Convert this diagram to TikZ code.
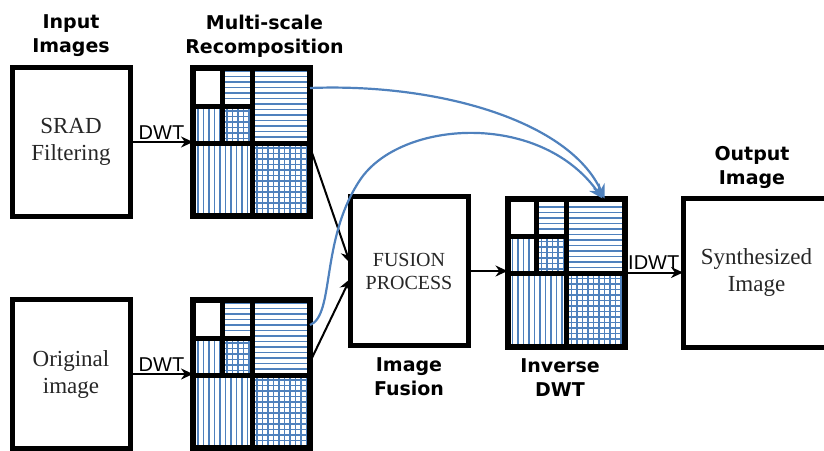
\documentclass[tikz,border=0pt]{standalone}
\usepackage{fontspec}
\setmainfont{Liberation Serif}
\setsansfont{Liberation Sans}
\newfontfamily\headfont{DejaVu Sans}
\usepackage{tikz}
\usetikzlibrary{arrows.meta, positioning, calc}

\definecolor{bandblue}{RGB}{79,129,189}

% hatched subbands of a two level decomposition, inside node #1
\newcommand{\subbands}[1]{%
  \begin{scope}[shift={(#1.north west)}, bandblue, line width=1.3pt]
    % horizontal detail
    \foreach \y in {3,8.5,...,35} \draw (29,\y) -- (59,\y);
    \foreach \y in {3,8.5,...,73} \draw (59,\y) -- (117,\y);
    % vertical detail
    \foreach \x in {5,10.5,...,27} \draw (\x,38) -- (\x,75);
    \foreach \x in {5,10.5,...,57} \draw (\x,75) -- (\x,148);
    % diagonal detail
    \foreach \x in {34,39.5,...,57} \draw (\x,38) -- (\x,75);
    \foreach \y in {43,48.5,...,72} \draw (29,\y) -- (59,\y);
    \foreach \x in {64,69.5,...,115} \draw (\x,75) -- (\x,148);
    \foreach \y in {80,85.5,...,146} \draw (59,\y) -- (117,\y);
    % band borders
    \draw[black, line width=5pt] (59,0) -- (59,148) (0,75) -- (117,75)
      (29,0) -- (29,75) (0,38) -- (59,38);
    \draw[black, line width=6pt] (0,0) rectangle (117,148);
  \end{scope}}

\begin{document}
\begin{tikzpicture}[x=1pt, y=-1pt, >={Stealth[length=12pt,width=11pt]},
    box/.style={draw, line width=5pt, outer sep=0pt, minimum width=118pt,
      minimum height=149pt, align=center, text=black!85,
      font=\fontsize{23}{27}\selectfont},
    band/.style={outer sep=0pt, minimum width=117pt, minimum height=148pt},
    heading/.style={align=center, font=\headfont\bfseries\fontsize{19}{24}\selectfont},
    flow/.style={->, line width=2pt},
    bypass/.style={-{Stealth[length=14pt,width=13pt]}, bandblue, line width=2.2pt},
    arrowtag/.style={font=\sffamily\fontsize{20}{22}\selectfont, inner sep=2pt}]
    \path[use as bounding box, clip] (0,0) rectangle (824,450);

    % input images
    \node[box] (srad) at (71,142) {SRAD\\Filtering};
    \node[box] (orig) at (71,374) {Original\\image};
    \node[heading, above=7pt of srad] (inlbl) {Input\\Images};

    % decompositions
    \node[band] (top) at (251.5,142) {};
    \node[band] (bot) at (251.5,374) {};
    \node[band] (inv) at (566,272.5) {};
    \subbands{top}
    \subbands{bot}
    \subbands{inv}
    \node[heading, above=7pt of top, xshift=13pt] (mslbl) {Multi-scale\\Recomposition};
    \node[heading, below=9pt of inv, xshift=-6pt] (invlbl) {Inverse\\DWT};

    % fusion and output
    \node[box, font=\fontsize{20}{23}\selectfont] (fusion) at (409,271) {FUSION\\PROCESS};
    \node[heading, below=9pt of fusion] (fuslbl) {Image\\Fusion};
    \node[box, minimum width=147pt] (out) at (756.5,272.5) {Synthesized\\Image};
    \node[heading, above=6pt of out.north west, xshift=69pt] (outlbl) {Output\\Image};

    % transforms
    \draw[flow] (srad) -- (top) node[arrowtag, midway, above] {DWT};
    \draw[flow] (orig) -- (bot) node[arrowtag, midway, above] {DWT};
    \draw[flow] ($(top.east)+(0,5)$) -- ($(fusion.west)+(0,-8)$);
    \draw[flow] ($(bot.east)+(0,-12)$) -- ($(fusion.west)+(0,8)$);
    \draw[flow] (fusion.east) -- (fusion.east -| inv.west);
    \draw[flow] (inv) -- (out) node[arrowtag, midway, above] {IDWT};

    % low band passed straight on
    \coordinate (apex) at (360,180);
    \draw[bypass] ($(top.north east)+(0,20)$) .. controls +(130,-5) and +(-35,-77)
      .. ($(inv.north east)+(-20,0)$);
    \draw[bypass] ($(bot.north east)+(0,25)$) .. controls +(25,-10) and +(-40,60)
      .. (apex) .. controls +(40,-60) and +(-63,-88) .. ($(inv.north east)+(-22,0)$);
\end{tikzpicture}
\end{document}
